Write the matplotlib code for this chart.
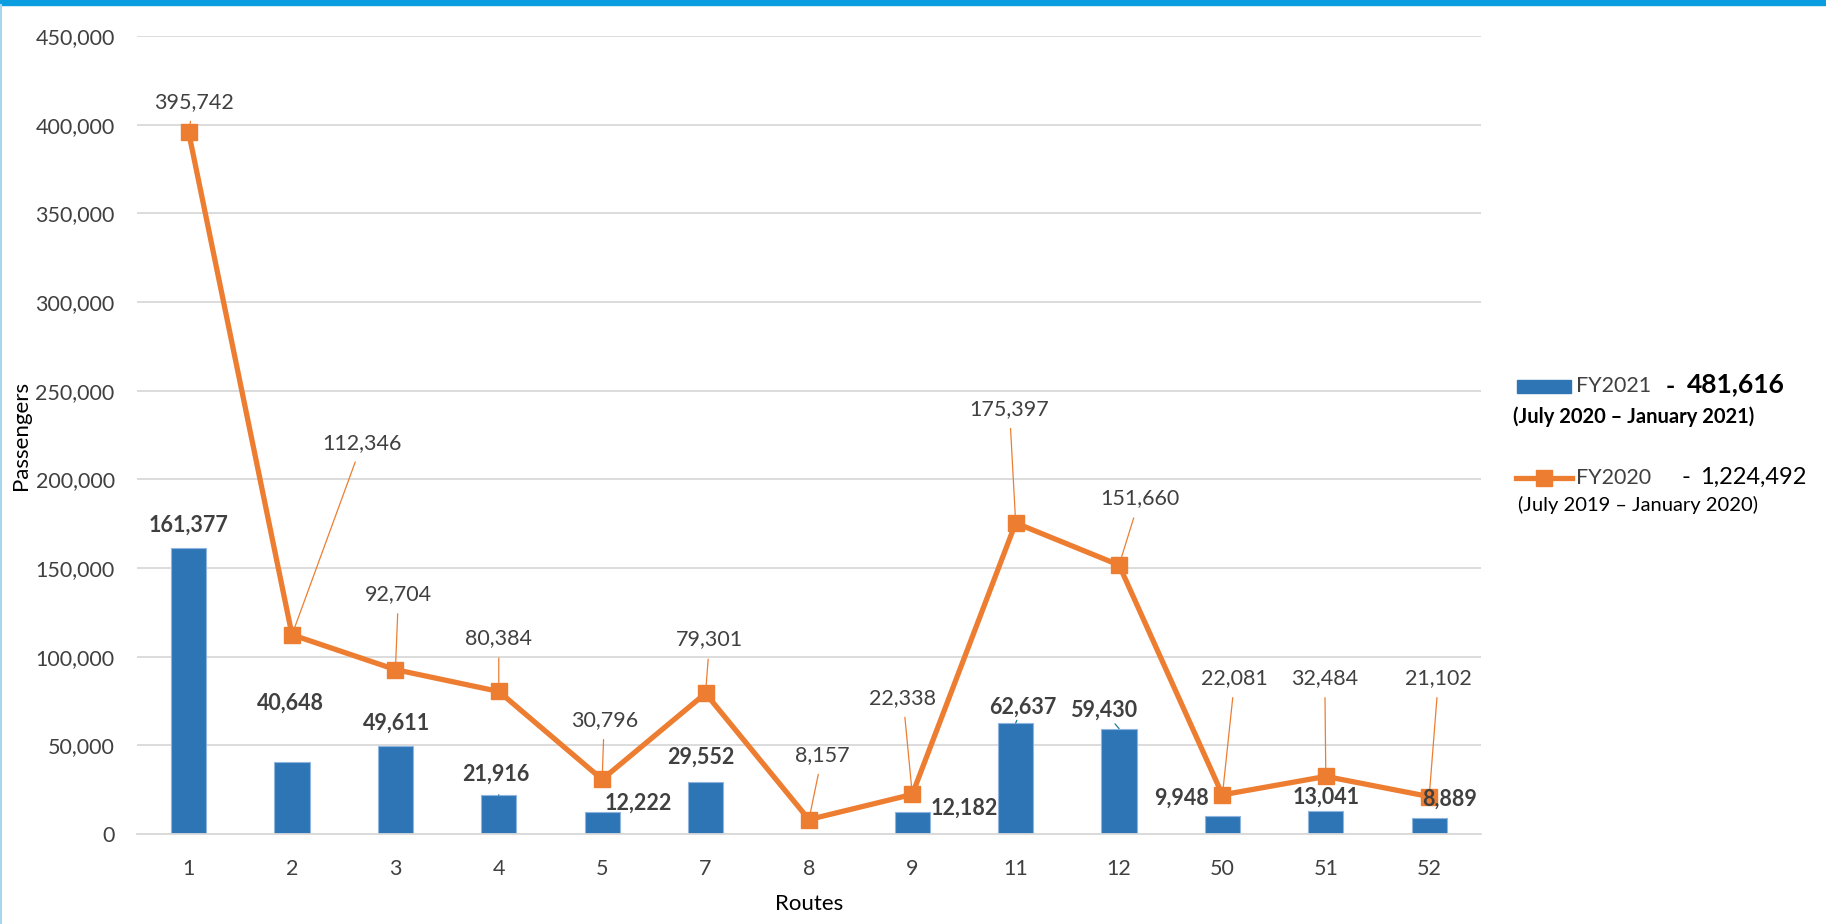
import matplotlib.pyplot as plt
from matplotlib.patches import Rectangle
from matplotlib.lines import Line2D

plt.rcParams['font.family'] = ['Lato', 'DejaVu Sans']

routes = ['1', '2', '3', '4', '5', '7', '8', '9', '11', '12', '50', '51', '52']
fy2021 = [161377, 40648, 49611, 21916, 12222, 29552, 163, 12182, 62637, 59430, 9948, 13041, 8889]
fy2020 = [395742, 112346, 92704, 80384, 30796, 79301, 8157, 22338, 175397, 151660, 22081, 32484, 21102]

# where the data labels sit (x index, y value) - layout only
fy2020_label_pos = [(0.05, 413000), (1.68, 220700), (2.03, 135300), (3.0, 110400),
                    (4.02, 64400), (5.04, 109700), (6.13, 44700), (6.91, 76900),
                    (7.94, 239800), (9.2, 189200), (10.12, 88000), (10.99, 88000),
                    (12.09, 88000)]
fy2021_label_pos = [(0.0, 174100), (0.98, 73600), (2.01, 62400), (2.97, 33500),
                    (4.35, 17100), (4.95, 43400), None, (7.5, 14450),
                    (8.07, 71600), (8.85, 69600), (9.6, 20400), (11.0, 21000),
                    (12.2, 19700)]
fy2021_leader = [False, False, False, True, False, False, False, False,
                 True, True, False, False, False]

blue = '#2e75b6'
orange = '#ed7d31'
text_c = '#404040'

fig = plt.figure(figsize=(18.26, 9.24), dpi=100)
ax = fig.add_axes([0.075, 0.0974, 0.736, 0.8636])

x = list(range(len(routes)))
ax.bar(x, fy2021, width=0.34, color=blue, edgecolor='#8fb4de', linewidth=0.8, zorder=2)
ax.plot(x, fy2020, color=orange, lw=3.8, marker='s', markersize=11, zorder=3)

ax.set_xlim(-0.5, len(routes) - 0.5)
ax.set_ylim(0, 450000)
ax.set_yticks(range(0, 450001, 50000))
ax.set_yticklabels([f'{v:,}' for v in range(0, 450001, 50000)])
ax.set_xticks(x)
ax.set_xticklabels(routes)
ax.tick_params(length=0, labelsize=15.5, labelcolor=text_c)
ax.tick_params(axis='y', pad=16)
ax.tick_params(axis='x', pad=18)
ax.grid(axis='y', color='#d9d9d9', lw=1.3, zorder=0)
ax.set_axisbelow(True)
for s in ['top', 'right', 'left']:
    ax.spines[s].set_visible(False)
ax.spines['bottom'].set_color('#d9d9d9')
ax.spines['bottom'].set_linewidth(1.3)

ax.set_ylabel('Passengers', fontsize=16, color='black', labelpad=3)
ax.set_xlabel('Routes', fontsize=16, color='black', labelpad=11)

for i, v in enumerate(fy2020):
    lx, ly = fy2020_label_pos[i]
    ax.annotate(f'{v:,}', xy=(i, v), xytext=(lx, ly), ha='center', va='center',
                fontsize=15.5, color=text_c, zorder=5,
                arrowprops=dict(arrowstyle='-', color=orange, lw=0.9,
                                shrinkA=5, shrinkB=0))

for i, v in enumerate(fy2021):
    pos = fy2021_label_pos[i]
    if pos is None:
        continue
    lx, ly = pos
    if fy2021_leader[i]:
        ax.annotate(f'{v:,}', xy=(i, v), xytext=(lx, ly), ha='center', va='center',
                    fontsize=15.5, fontweight='bold', color=text_c, zorder=5,
                    arrowprops=dict(arrowstyle='-', color='#1f7a99', lw=0.9,
                                    shrinkA=5, shrinkB=0))
    else:
        ax.text(lx, ly, f'{v:,}', ha='center', va='center', fontsize=15.5,
                fontweight='bold', color=text_c, zorder=5)

# legend, drawn by hand to match the layout
W, H = 1826, 924
def fx(px):
    return px / W
def fy(py):
    return 1 - py / H

fig.patches.append(Rectangle((fx(1517), fy(393)), fx(54), 13 / H, color=blue,
                             transform=fig.transFigure))
fig.text(fx(1576), fy(386), 'FY2021', fontsize=15.5, color=text_c, va='center')
fig.text(fx(1666), fy(386), '-', fontsize=18, fontweight='bold', color='black', va='center')
fig.text(fx(1687), fy(384), f'{sum(fy2021):,}', fontsize=19, fontweight='bold',
         color='black', va='center')
fig.text(fx(1513), fy(417), '(July 2020 \u2013 January 2021)', fontsize=14.5,
         fontweight='bold', color='black', va='center')

fig.lines.append(Line2D([fx(1516), fx(1572)], [fy(478), fy(478)], color=orange, lw=3.8,
                        transform=fig.transFigure))
fig.lines.append(Line2D([fx(1544)], [fy(478)], color=orange, marker='s', markersize=11,
                        transform=fig.transFigure))
fig.text(fx(1576), fy(478), 'FY2020', fontsize=15.5, color=text_c, va='center')
fig.text(fx(1681), fy(478), '-', fontsize=17, color='black', va='center')
fig.text(fx(1700), fy(477), f'{sum(fy2020):,}', fontsize=17, color='black', va='center')
fig.text(fx(1518), fy(505), '(July 2019 \u2013 January 2020)', fontsize=14.5,
         color='black', va='center')

# frame: blue strip on top, thin light line on the left
fig.patches.append(Rectangle((0, fy(5)), 1, 5 / H, color='#0a9de0',
                             transform=fig.transFigure))
fig.lines.append(Line2D([fx(1), fx(1)], [0, fy(5)], color='#a9d4ee', lw=1.5,
                        transform=fig.transFigure))

fig.savefig('out.png', dpi=100)
